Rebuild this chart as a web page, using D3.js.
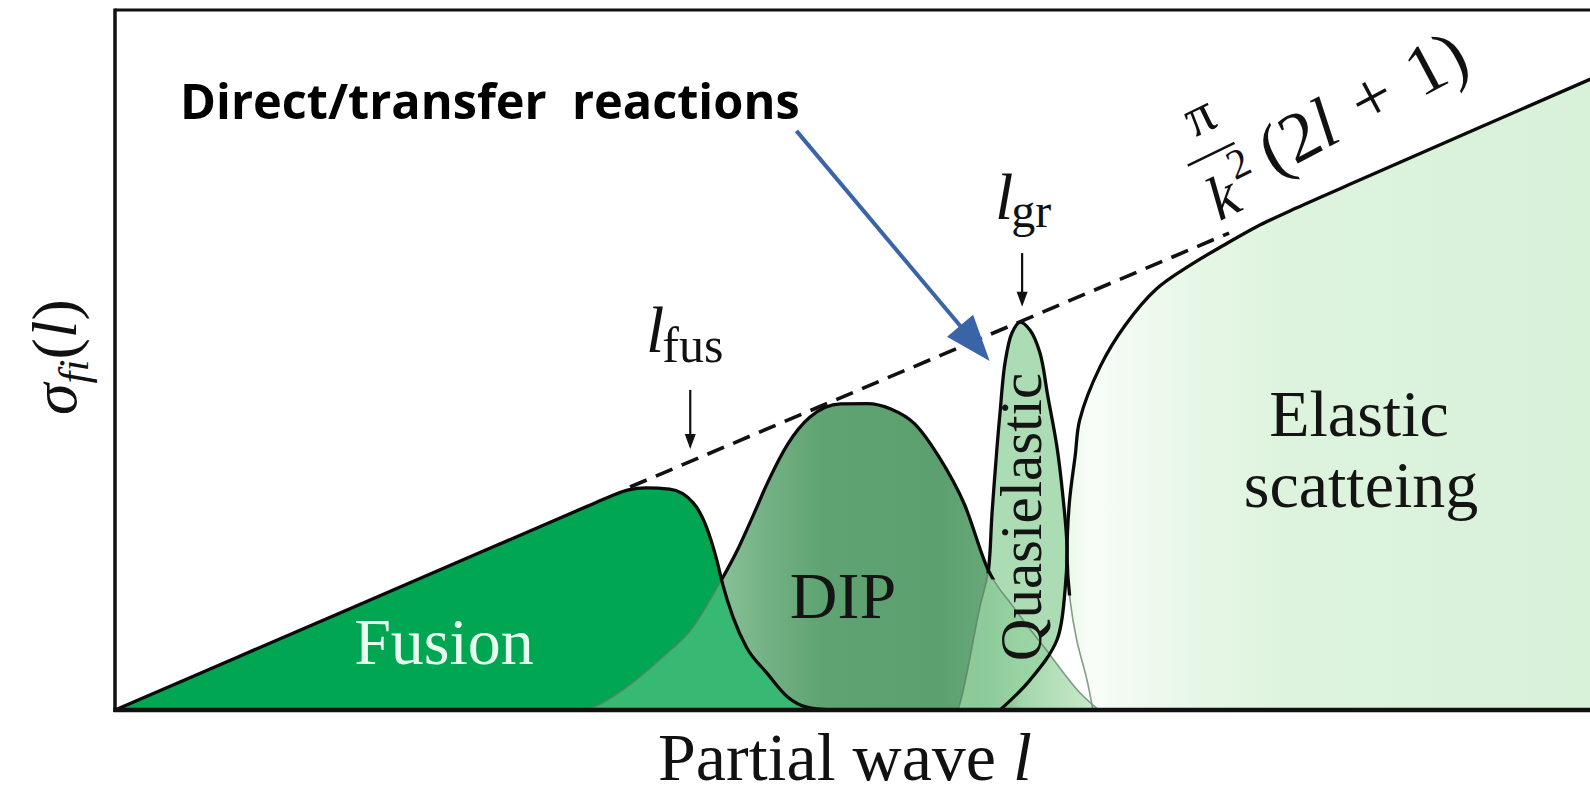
<!DOCTYPE html>
<html>
<head>
<meta charset="utf-8">
<script src="https://cdn.jsdelivr.net/npm/d3@7"></script>
<style>
  html, body { margin: 0; padding: 0; background: #ffffff; overflow: hidden; }
  svg { display: block; }
  .serif { font-family: "Liberation Serif", "DejaVu Serif", serif; }
</style>
</head>
<body>
<svg id="chart" width="1590" height="795"></svg>
<script>
// Partial-wave decomposition of the reaction cross section, sigma_fi(l) versus l.
// Each channel is given as [l, sigma] pairs (arbitrary units).
const fusion = [[0,0],[16,32],[32,64],[33.6,67.2],[34.8,69.2],[36,69.8],[37.6,69.4],[39.2,65.1],[40.1,57.5],
  [40.8,47.1],[41.2,39.5],[41.9,29.2],[42.8,19.8],[44.2,11.6],[45.6,4.1],[46.9,0.9],[48.5,0]];
const dip = [[31.5,0],[32.4,0.9],[34.7,7.2],[36.9,15.7],[39.2,26.1],[41.0,39.9],[42.2,50.3],[43.3,61.5],
  [44.3,72],[45.6,83.5],[47.1,92],[49.2,96.2],[51.0,96.3],[52.6,94.6],[54.2,90.0],[55.8,80.0],
  [57.6,64.5],[59.2,44.0],[60.9,32.4],[63.2,18.5],[65.4,5.5],[66.7,0]];
const quasielastic = [[57.15,0],[57.4,4],[57.76,11.6],[58.64,32.4],[59.19,43.1],[59.46,61.9],[59.8,82.7],
  [60.0,93.3],[60.34,109.1],[60.81,118.5],[61.36,121.9],[62.03,119.4],[62.71,112.2],[63.25,98.4],
  [63.86,82.7],[64.27,66.9],[64.54,51.2],[64.41,37.7],[63.86,22.0],[62.03,9.4],[60.0,0]];
const elastic = [[66.3,0],[65.9,9.4],[65.2,22.0],[64.75,34.6],[64.55,48],[64.7,65],[65.1,80],[65.4,91.1],
  [66.8,108],[68.5,121],[70.6,132.3],[72.9,139.8],[75.1,145.9],[77.4,151.9],[80,157.6],[85,167.8],
  [100,198.2],[103,204.1]];
// Geometric limit pi/k^2 (2l+1), drawn between the fusion cut-off and the grazing region
const unitarityLimit = [[34.92,70.08],[75.53,149.9]];
// Critical partial waves marked with arrows: [l, sigma from, sigma to]
const lFus = [39.0, 100.6, 82.0];
const lGr = [61.5, 143.6, 126.7];
// Pointer for the direct/transfer channel: [l, sigma] start and tip
const directArrow = [[46.2,182],[59.3,109.7]];

const x = d3.scaleLinear().domain([0, 100]).range([115, 1590]);
const y = d3.scaleLinear().domain([0, 220]).range([710, 10]);

const svg = d3.select("#chart");
const defs = svg.append("defs");

const smooth = d3.line().x(d => x(d[0])).y(d => y(d[1])).curve(d3.curveMonotoneX);
const loop = d3.line().x(d => x(d[0])).y(d => y(d[1])).curve(d3.curveCatmullRom.alpha(0.5));

const fusionPath = smooth(fusion) + "Z";
const dipPath = smooth(dip) + "Z";
const quasiPath = loop(quasielastic) + "Z";
const elasticPath = loop(elastic) + `L${x(103)},${y(0)}Z`;

function hGradient(id, stops) {
  const l0 = stops[0][0], l1 = stops[stops.length - 1][0];
  const g = defs.append("linearGradient").attr("id", id)
    .attr("gradientUnits", "userSpaceOnUse")
    .attr("x1", x(l0)).attr("x2", x(l1)).attr("y1", 0).attr("y2", 0);
  stops.forEach(s => g.append("stop").attr("offset", (s[0] - l0) / (l1 - l0)).attr("stop-color", s[1]));
}
hGradient("gElastic", [[64,"#e4f6e5"],[66,"#f8fdf8"],[68,"#f4fbf4"],[73,"#e7f7e7"],[80,"#ddf3dd"],[100,"#d8f1d9"]]);
hGradient("gDip", [[31,"#a7d6b1"],[40,"#8fc79d"],[44,"#74b285"],[48,"#5fa372"],[56,"#5da070"],[59,"#66a878"],[61.5,"#a3d6ab"],[66,"#c6e9c9"]]);

defs.append("clipPath").attr("id", "cPlot").append("rect")
  .attr("x", x(0)).attr("y", y(220)).attr("width", x(100) - x(0) + 20).attr("height", y(0) - y(220));
defs.append("clipPath").attr("id", "cFusion").append("path").attr("d", fusionPath);
// Visible (black) parts of the outlines
defs.append("clipPath").attr("id", "cDipEdge").append("rect")
  .attr("x", 0).attr("y", 0).attr("width", 1590).attr("height", y(41));
const cq = defs.append("clipPath").attr("id", "cQuasiEdge");
cq.append("rect").attr("x", 0).attr("y", 0).attr("width", 1590).attr("height", y(43));
cq.append("rect").attr("x", x(59.4)).attr("y", 0).attr("width", 1590).attr("height", 795);
defs.append("clipPath").attr("id", "cElasticEdge").append("rect")
  .attr("x", 0).attr("y", 0).attr("width", 1590).attr("height", y(36));

const plot = svg.append("g").attr("clip-path", "url(#cPlot)");

// Filled channels
plot.append("path").attr("d", elasticPath).attr("fill", "url(#gElastic)");
plot.append("path").attr("d", dipPath).attr("fill", "url(#gDip)");
plot.append("path").attr("d", fusionPath).attr("fill", "#00a651");
plot.append("path").attr("d", dipPath).attr("fill", "#c4e8cc").attr("opacity", 0.28)
  .attr("clip-path", "url(#cFusion)");
plot.append("path").attr("d", quasiPath).attr("fill", "#97d3a1").attr("opacity", 0.8);

// Hidden parts of the outlines, seen through the fills
const faint = plot.append("g").attr("fill", "none").attr("stroke", "#5f7d68")
  .attr("stroke-width", 1.6).attr("opacity", 0.75);
faint.append("path").attr("d", smooth(dip));
faint.append("path").attr("d", loop(quasielastic));
faint.append("path").attr("d", loop(elastic));

// Outer outlines
const edge = plot.append("g").attr("fill", "none").attr("stroke", "#0a0a0a")
  .attr("stroke-width", 3.3).attr("stroke-linejoin", "round");
edge.append("path").attr("d", smooth(fusion));
edge.append("path").attr("d", smooth(dip)).attr("clip-path", "url(#cDipEdge)");
edge.append("path").attr("d", loop(quasielastic)).attr("clip-path", "url(#cQuasiEdge)");
edge.append("path").attr("d", loop(elastic)).attr("clip-path", "url(#cElasticEdge)");

// pi/k^2 (2l+1) limit
plot.append("path").attr("d", d3.line().x(d => x(d[0])).y(d => y(d[1]))(unitarityLimit))
  .attr("fill", "none").attr("stroke", "#111").attr("stroke-width", 3.6).attr("stroke-dasharray", "18 10");

// Frame
const frame = svg.append("g").attr("stroke", "#111");
frame.append("line").attr("x1", x(0)).attr("x2", 1590).attr("y1", y(220)).attr("y2", y(220)).attr("stroke-width", 3);
frame.append("line").attr("x1", x(0)).attr("x2", x(0)).attr("y1", y(220) - 1.5).attr("y2", y(0) + 2).attr("stroke-width", 3.5);
frame.append("line").attr("x1", x(0) - 1.7).attr("x2", 1590).attr("y1", y(0)).attr("y2", y(0)).attr("stroke-width", 4.5);

// Small black arrows for l_fus and l_gr
function downArrow(a) {
  const xx = x(a[0]), y0 = y(a[1]), y1 = y(a[2]);
  svg.append("line").attr("x1", xx).attr("x2", xx).attr("y1", y0).attr("y2", y1 - 12)
    .attr("stroke", "#111").attr("stroke-width", 2.2);
  svg.append("path").attr("d", `M${xx - 5.5},${y1 - 15}L${xx + 5.5},${y1 - 15}L${xx},${y1}Z`).attr("fill", "#111");
}
downArrow(lFus);
downArrow(lGr);

// Blue pointer
{
  const [s, t] = directArrow;
  const x0 = x(s[0]), y0 = y(s[1]), x1 = x(t[0]), y1 = y(t[1]);
  const len = Math.hypot(x1 - x0, y1 - y0), ux = (x1 - x0) / len, uy = (y1 - y0) / len;
  const hl = 46, hw = 17, bx = x1 - ux * hl, by = y1 - uy * hl;
  svg.append("line").attr("x1", x0).attr("y1", y0).attr("x2", bx + ux * 4).attr("y2", by + uy * 4)
    .attr("stroke", "#3a64a8").attr("stroke-width", 4);
  svg.append("path").attr("d", `M${x1},${y1}L${bx - uy * hw},${by + ux * hw}L${bx + uy * hw},${by - ux * hw}Z`)
    .attr("fill", "#3a64a8");
}

// Labels
svg.append("text").attr("x", 180).attr("y", 119)
  .attr("font-family", "'Open Sans', Lato, sans-serif").attr("font-weight", 700).attr("font-size", 48.7)
  .attr("fill", "#000").style("white-space", "pre").text("Direct/transfer  reactions");

const serif = svg.append("g").attr("class", "serif");
serif.append("text").attr("x", 444).attr("y", 664).attr("text-anchor", "middle")
  .attr("font-size", 66).attr("fill", "#e8fff0").text("Fusion");
serif.append("text").attr("x", 843).attr("y", 618).attr("text-anchor", "middle")
  .attr("font-size", 66).attr("fill", "#141414").text("DIP");
serif.append("text").attr("transform", "translate(1041,517) rotate(-90)").attr("text-anchor", "middle")
  .attr("font-size", 59).attr("fill", "#141414").text("Quasielastic");
serif.append("text").attr("x", 1359).attr("y", 436).attr("text-anchor", "middle")
  .attr("font-size", 66).attr("fill", "#141414").text("Elastic");
serif.append("text").attr("x", 1361).attr("y", 507).attr("text-anchor", "middle")
  .attr("font-size", 66).attr("fill", "#141414").text("scatteing");

// Axis titles
const xt = serif.append("text").attr("x", 845).attr("y", 780).attr("text-anchor", "middle")
  .attr("font-size", 68).attr("fill", "#111");
xt.append("tspan").text("Partial wave ");
xt.append("tspan").attr("font-style", "italic").text("l");

const yt = serif.append("text").attr("transform", "translate(76,357) rotate(-90)").attr("text-anchor", "middle")
  .attr("font-size", 64).attr("fill", "#111");
yt.append("tspan").attr("font-style", "italic").text("σ");
yt.append("tspan").attr("font-style", "italic").attr("font-size", 43).attr("dy", 12).text("fi");
yt.append("tspan").attr("dy", -12).text("(");
yt.append("tspan").attr("font-style", "italic").text("l");
yt.append("tspan").text(")");

// l_fus and l_gr
const lf = serif.append("text").attr("x", 646).attr("y", 352).attr("font-size", 66).attr("fill", "#111");
lf.append("tspan").attr("font-style", "italic").text("l");
lf.append("tspan").attr("font-size", 50).attr("dy", 10).attr("dx", -2).text("fus");
const lg = serif.append("text").attr("x", 995).attr("y", 219).attr("font-size", 66).attr("fill", "#111");
lg.append("tspan").attr("font-style", "italic").text("l");
lg.append("tspan").attr("font-size", 48).attr("dy", 8).attr("dx", -2).text("gr");

// pi/k^2 (2l + 1), set along the limit line
const fr = serif.append("g").attr("transform", "translate(1212,156) rotate(-26)").attr("fill", "#111");
fr.append("line").attr("x1", -26).attr("x2", 26).attr("y1", -2).attr("y2", -2).attr("stroke", "#111").attr("stroke-width", 2.5);
fr.append("text").attr("x", 6).attr("y", -24).attr("text-anchor", "middle").attr("font-size", 56).text("π");
fr.append("text").attr("x", -8).attr("y", 62).attr("text-anchor", "middle").attr("font-size", 62).attr("font-style", "italic").text("k");
fr.append("text").attr("x", 10).attr("y", 32).attr("font-size", 42).text("2");
const par = serif.append("text").attr("transform", "translate(1274,176) rotate(-28)")
  .attr("font-size", 71).attr("fill", "#111").style("word-spacing", "6px");
par.append("tspan").text("(2");
par.append("tspan").attr("font-style", "italic").text("l");
par.append("tspan").text(" + 1)");
</script>
</body>
</html>
